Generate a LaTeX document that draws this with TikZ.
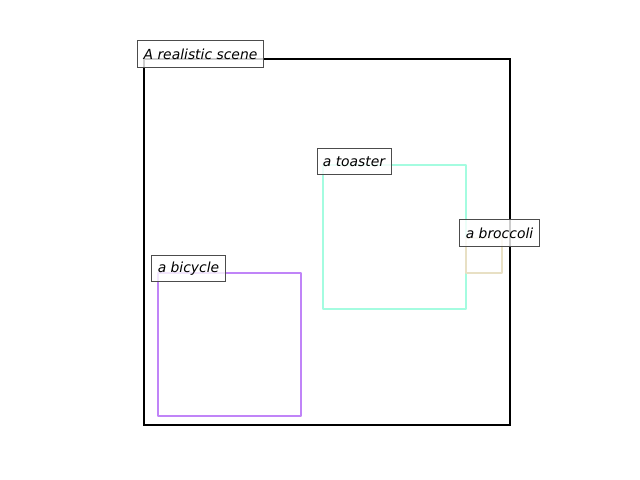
\documentclass[tikz,border=0pt]{standalone}
\usepackage{fontspec}
\setmainfont{DejaVu Sans}
\begin{document}
\begin{tikzpicture}[x=0.72pt,y=-0.72pt,
  lbl/.style={draw=black!70, fill=white, fill opacity=0.8, text opacity=1,
    font=\itshape\fontsize{10}{12}\selectfont, inner xsep=4.2pt, inner ysep=0pt,
    minimum height=19.2pt, line width=0.7pt},
  bx/.style={line width=1.6pt, line join=round}]
\useasboundingbox (0,0) rectangle (640,480);
\draw[bx, black, line width=1.6pt, line join=miter] (144,59) rectangle (510,425);
\definecolor{toastc}{HTML}{A4FCE0}
\definecolor{brocc}{HTML}{E8E0C4}
\definecolor{bikec}{HTML}{C084F8}
\draw[bx, toastc] (323,165) rectangle (466,309);
\draw[bx, brocc] (466,238) rectangle (502,273);
\draw[bx, bikec] (158,273) rectangle (301,416);
\node[lbl] (scene) at (200.5,54) {A realistic scene};
\node[lbl] (toaster) at (354,161.5) {a toaster};
\node[lbl] (broccoli) at (499.5,233) {a broccoli};
\node[lbl] (bicycle) at (188.5,268.5) {a bicycle};
\end{tikzpicture}
\end{document}
